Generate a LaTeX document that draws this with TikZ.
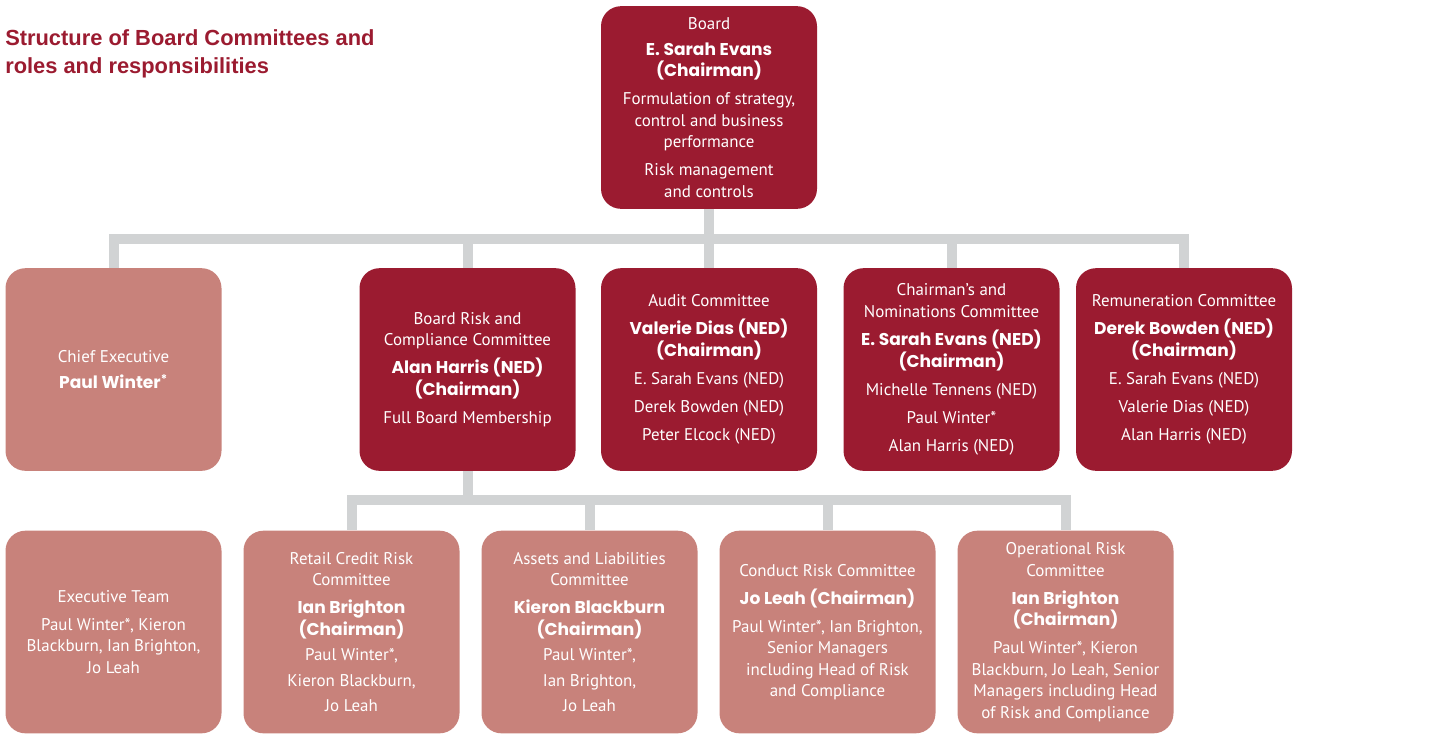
\documentclass[tikz,border=0pt]{standalone}
\usepackage{fontspec}
\setmainfont{PT Sans}
\newfontfamily\titlefont{Liberation Sans}
\newfontfamily\namefont{Poppins}
\usetikzlibrary{positioning, backgrounds}
\definecolor{boardred}{RGB}{155,27,48}
\definecolor{execpink}{RGB}{200,130,123}
\definecolor{linkgrey}{RGB}{209,211,212}
\newcommand{\who}[1]{{\namefont\bfseries\fontsize{12.8}{16.1}\selectfont #1}}
\tikzset{
  orgbox/.style={rounded corners=15pt, minimum width=162pt, minimum height=152pt,
                 inner sep=0pt, align=center, text=white, font=\fontsize{12.7}{16.1}\selectfont},
  boardbox/.style={orgbox, fill=boardred},
  execbox/.style={orgbox, fill=execpink},
  link/.style={draw=linkgrey, line width=7.5pt},
}

\begin{document}
\begin{tikzpicture}[x=0.75pt, y=-0.75pt]
  \useasboundingbox (0,0) rectangle (1435,733);
  \node[anchor=north west, inner sep=0pt, align=left, text=boardred,
        font=\titlefont\bfseries\fontsize{16.4}{21.5}\selectfont] (title) at (5,29)
       {Structure of Board Committees and\\roles and responsibilities};

  % top of the tree
  \node[boardbox] (board) at (709,107.5)
       {Board\\[3pt] \who{E. Sarah Evans}\\ \who{(Chairman)}\\[5pt]
        Formulation of strategy,\\ control and business\\ performance\\[5pt]
        Risk management\\ and controls};

  % committees reporting to the board
  \node[execbox] (ce) at (113.5,369.5)
       {Chief Executive\\[4pt] \who{Paul Winter\textsuperscript{*}}};
  \node[boardbox] (brc) at (467.5,369.5)
       {Board Risk and\\ Compliance Committee\\[5pt] \who{Alan Harris (NED)}\\ \who{(Chairman)}\\[5pt]
        Full Board Membership};
  \node[boardbox] (audit) at (709,369.5)
       {Audit Committee\\[5pt] \who{Valerie Dias (NED)}\\ \who{(Chairman)}\\[5pt]
        E. Sarah Evans (NED)\\[5pt] Derek Bowden (NED)\\[5pt] Peter Elcock (NED)};
  \node[boardbox] (cn) at (951.5,369.5)
       {Chairman’s and\\ Nominations Committee\\[5pt] \who{E. Sarah Evans (NED)}\\ \who{(Chairman)}\\[5pt]
        Michelle Tennens (NED)\\[5pt] Paul Winter*\\[5pt] Alan Harris (NED)};
  \node[boardbox] (rem) at (1184,369.5)
       {Remuneration Committee\\[5pt] \who{Derek Bowden (NED)}\\ \who{(Chairman)}\\[5pt]
        E. Sarah Evans (NED)\\[5pt] Valerie Dias (NED)\\[5pt] Alan Harris (NED)};

  % executive level
  \node[execbox] (exec) at (113.5,632)
       {Executive Team\\[5pt] Paul Winter*, Kieron\\ Blackburn, Ian Brighton,\\ Jo Leah};
  \node[execbox] (retail) at (351.5,632)
       {Retail Credit Risk\\ Committee\\[5pt] \who{Ian Brighton}\\ \who{(Chairman)}\\[3pt]
        Paul Winter*,\\[3pt] Kieron Blackburn,\\[3pt] Jo Leah};
  \node[execbox] (assets) at (589.5,632)
       {Assets and Liabilities\\ Committee\\[5pt] \who{Kieron Blackburn}\\ \who{(Chairman)}\\[3pt]
        Paul Winter*,\\[3pt] Ian Brighton,\\[3pt] Jo Leah};
  \node[execbox] (conduct) at (827.5,632)
       {Conduct Risk Committee\\[5pt] \who{Jo Leah (Chairman)}\\[5pt]
        Paul Winter*, Ian Brighton,\\ Senior Managers\\ including Head of Risk\\ and Compliance};
  \node[execbox] (oprisk) at (1065.5,632)
       {Operational Risk\\ Committee\\[5pt] \who{Ian Brighton}\\ \who{(Chairman)}\\[5pt]
        Paul Winter*, Kieron\\ Blackburn, Jo Leah, Senior\\ Managers including Head\\ of Risk and Compliance};

  \begin{scope}[on background layer]
    \foreach \child in {ce, brc, audit, cn, rem}
      \draw[link] (board.south) -- ++(0,30) -| (\child.north);
    \foreach \child in {retail, assets, conduct, oprisk}
      \draw[link] (brc.south) -- ++(0,29) -| (\child.north);
  \end{scope}
\end{tikzpicture}
\end{document}
